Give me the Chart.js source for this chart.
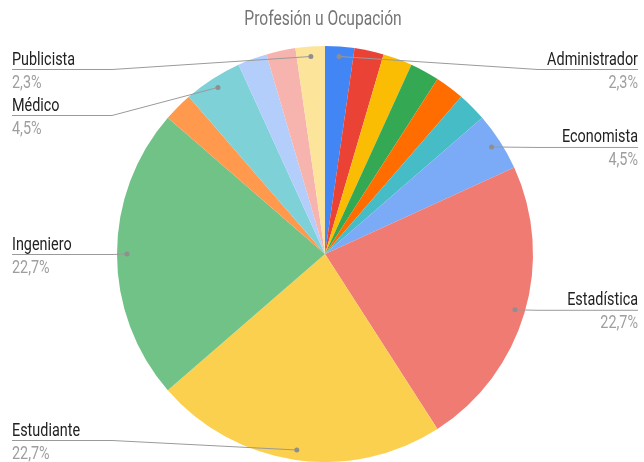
<!DOCTYPE html>
<html>
<head>
<meta charset="utf-8">
<script src="https://cdn.jsdelivr.net/npm/chart.js@4"></script>
<style>
  html, body { margin: 0; padding: 0; background: #ffffff; }
  #wrap { width: 644px; height: 462px; position: relative; }
</style>
</head>
<body>
<div id="wrap"><canvas id="c" width="644" height="462"></canvas></div>
<script>
// ---- data ----
const chartTitle = "Profesión u Ocupación";
const categories = [
  "Administrador", "Arquitecto", "Biólogo", "Comerciante", "Contador", "Docente",
  "Economista", "Estadística", "Estudiante", "Ingeniero", "Matemático", "Médico",
  "Músico", "Profesor", "Publicista"
];
const counts = [1, 1, 1, 1, 1, 1, 2, 10, 10, 10, 1, 2, 1, 1, 1];
const sliceColors = [
  "#4285F4", "#EA4335", "#FBBC04", "#34A853", "#FF6D01", "#46BDC6",
  "#7BAAF7", "#F07B72", "#FCD04F", "#71C287", "#FF994D", "#7ED1D7",
  "#B3CEFB", "#F7B4AE", "#FDE49B"
];
const labeledCategories = ["Administrador", "Economista", "Estadística", "Estudiante", "Ingeniero", "Médico", "Publicista"];

const total = counts.reduce((a, b) => a + b, 0);
const pct = v => (v / total * 100).toFixed(1).replace(".", ",") + "%";

const FONT = "Roboto, 'Noto Sans', sans-serif";
const SX = 0.8;

function drawText(ctx, text, x, y, align, size, color, sx) {
  ctx.save();
  ctx.font = size + "px " + FONT;
  ctx.fillStyle = color;
  ctx.textBaseline = "alphabetic";
  const w = ctx.measureText(text).width * sx;
  let x0 = x;
  if (align === "right") x0 = x - w;
  else if (align === "center") x0 = x - w / 2;
  ctx.translate(x0, y);
  ctx.scale(sx, 1);
  ctx.textAlign = "left";
  ctx.fillText(text, 0, 0);
  ctx.restore();
}

const labelPlugin = {
  id: "sheetLabels",
  afterDraw(chart) {
    const ctx = chart.ctx;
    const meta = chart.getDatasetMeta(0);
    const W = chart.width;
    // title
    drawText(ctx, chartTitle, W / 2 + 1, 25, "center", 20, "#757575", 0.78);

    const items = [];
    meta.data.forEach((arc, i) => {
      const name = categories[i];
      if (!labeledCategories.includes(name)) return;
      const p = arc.getProps(["x", "y", "startAngle", "endAngle", "outerRadius"], true);
      const a = (p.startAngle + p.endAngle) / 2;
      const r = p.outerRadius - 10;
      const dx = p.x + r * Math.cos(a);
      const dy = p.y + r * Math.sin(a);
      items.push({ name, value: counts[i], dx, dy, side: Math.cos(a) >= 0 ? "right" : "left" });
    });
    const minY = 69, maxY = 440, gap = 46;
    ["left", "right"].forEach(side => {
      const list = items.filter(it => it.side === side).sort((a, b) => a.dy - b.dy);
      let prev = -Infinity;
      list.forEach(it => { it.ly = Math.max(it.dy, minY, prev + gap); prev = it.ly; });
      let next = Infinity;
      for (let k = list.length - 1; k >= 0; k--) {
        list[k].ly = Math.min(list[k].ly, maxY, next - gap); next = list[k].ly;
      }
      list.forEach(it => {
        const edge = side === "left" ? 12 : W - 6;
        const elbow = side === "left" ? 112 : W - 106;
        ctx.save();
        ctx.strokeStyle = "#9a9a9a";
        ctx.lineWidth = 1;
        ctx.beginPath();
        ctx.moveTo(edge, it.ly + 0.5);
        ctx.lineTo(elbow, it.ly + 0.5);
        ctx.lineTo(it.dx, it.dy);
        ctx.stroke();
        ctx.fillStyle = "#8f8f8f";
        ctx.beginPath();
        ctx.arc(it.dx, it.dy, 2.5, 0, Math.PI * 2);
        ctx.fill();
        ctx.restore();
        drawText(ctx, it.name, edge, it.ly - 4.5, side === "left" ? "left" : "right", 18, "#222222", SX);
        drawText(ctx, pct(it.value), edge, it.ly + 18.5, side === "left" ? "left" : "right", 18, "#9e9e9e", SX);
      });
    });
  }
};

new Chart(document.getElementById("c"), {
  type: "pie",
  data: {
    labels: categories,
    datasets: [{
      data: counts,
      backgroundColor: sliceColors,
      borderWidth: 0
    }]
  },
  options: {
    responsive: false,
    animation: false,
    layout: { padding: { top: 46, left: 6, right: 0, bottom: -2 } },
    plugins: {
      legend: { display: false },
      title: { display: false },
      tooltip: { enabled: false }
    }
  },
  plugins: [labelPlugin]
});
</script>
</body>
</html>
